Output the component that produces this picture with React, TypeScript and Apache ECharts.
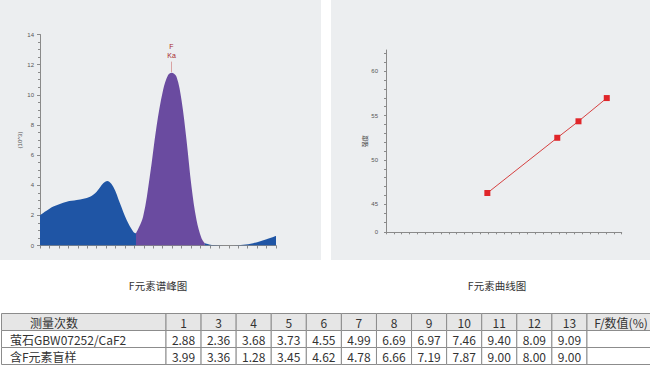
import React, { useEffect, useRef } from 'react';
import * as echarts from 'echarts';

// ---- Spectrum (F元素谱峰图) ----
const lowX = [0, 14.1, 28.3, 38.9, 53, 60, 67, 71.3, 77.6, 84.7, 91.8, 98.8, 101.7];
const lowY = [2.0, 2.58, 2.91, 3.02, 3.24, 3.57, 4.13, 4.28, 3.9, 2.8, 1.69, 0.92, 0.81];
const peakX = [101.7, 109.2, 116.3, 123.4, 130.4, 135.7, 139.3, 144.6, 149.9, 155.2, 160.5, 165.8, 171.1, 174.6];
const peakY = [0.81, 1.91, 4.57, 7.88, 10.32, 11.31, 11.47, 11.2, 9.65, 7.0, 3.9, 1.69, 0.48, 0.15];
const tailX = [174.6, 183.4, 204.6, 225.8, 240, 250];
const tailY = [0.15, 0.03, 0.0, 0.15, 0.41, 0.63];
const peakLabel = 'F\nKa';
const peakMarkX = 139.3;
const peakMarkFrom = 11.5;
const peakMarkTo = 12.2;

// ---- Calibration curve (F元素曲线图) ----
const curveX = [12.9, 21.8, 24.5, 28.1];
const curveY = [46.27, 52.5, 54.36, 56.98];
const curveTickValues = [41.84, 45, 50, 55, 60];
const curveTickLabels = ['0', '45', '50', '55', '60'];

// ---- Captions ----
const captionLeft = 'F元素谱峰图';
const captionRight = 'F元素曲线图';

// ---- Table ----
const tableHeader = ['测量次数', '1', '3', '4', '5', '6', '7', '8', '9', '10', '11', '12', '13', 'F/数值(%)'];
const rowNames = ['萤石GBW07252/CaF2', '含F元素盲样'];
const rowFluorite = [2.88, 2.36, 3.68, 3.73, 4.55, 4.99, 6.69, 6.97, 7.46, 9.40, 8.09, 9.09];
const rowBlind = [3.99, 3.36, 1.28, 3.45, 4.62, 4.78, 6.66, 7.19, 7.87, 9.00, 8.00, 9.00];

const zip = (xs: number[], ys: number[]) => xs.map((x, i) => [x, ys[i]]);

const AXIS_COLOR = '#8a8a8a';
const LABEL_COLOR = '#555';
const SANS = 'Liberation Sans, Arial, sans-serif';
const CJK = '"Noto Sans CJK SC", "Noto Sans", sans-serif';

function buildTable(): any[] {
  const els: any[] = [];
  const top = 313.5;
  const rowH = 17;
  const firstW = 164.5;
  const left = 1.5;
  const numW = 35.08;
  const colX: number[] = [left, left + firstW];
  for (let i = 1; i <= 12; i++) colX.push(left + firstW + numW * i);
  colX.push(655);
  const rows: string[][] = [
    tableHeader,
    [rowNames[0], ...rowFluorite.map((v) => v.toFixed(2)), ''],
    [rowNames[1], ...rowBlind.map((v) => v.toFixed(2)), ''],
  ];
  rows.forEach((row, r) => {
    const y = top + r * rowH;
    row.forEach((txt, c) => {
      const x0 = colX[c];
      const x1 = colX[c + 1];
      els.push({
        type: 'rect',
        shape: { x: x0, y, width: x1 - x0, height: rowH },
        style: { fill: r === 0 ? '#e6e6e6' : '#ffffff', stroke: '#8c8c8c', lineWidth: 1 },
        z: 1,
      });
      if (!txt) return;
      let tx = (x0 + x1) / 2;
      let align = 'center';
      if (c === 0) {
        if (r === 0) {
          tx = 54;
        } else {
          tx = 10;
          align = 'left';
        }
      }
      els.push({
        type: 'text',
        z: 2,
        style: {
          text: txt,
          x: tx,
          y: y + rowH / 2 + 0.5,
          fill: '#333',
          fontSize: 12,
          fontFamily: CJK,
          align,
          verticalAlign: 'middle',
          textAlign: align,
          textVerticalAlign: 'middle',
        },
      });
    });
  });
  return els;
}

export default function App() {
  const ref = useRef<HTMLDivElement>(null);
  useEffect(() => {
    if (!ref.current) return;
    const chart = echarts.init(ref.current, undefined, { renderer: 'svg' });
    const axisCommon = {
      axisLine: { show: true, onZero: false, lineStyle: { color: AXIS_COLOR, width: 1 } },
      axisTick: { show: true, inside: false, lineStyle: { color: AXIS_COLOR } },
      splitLine: { show: false },
    };
    chart.setOption({
      animation: false,
      backgroundColor: '#ffffff',
      graphic: [
        {
          type: 'rect',
          z: -100,
          shape: { x: 0, y: 0, width: 321, height: 260 },
          style: { fill: '#eceef0' },
        },
        {
          type: 'rect',
          z: -100,
          shape: { x: 331, y: 0, width: 319, height: 260 },
          style: { fill: '#eceef0' },
        },
        {
          type: 'text',
          style: {
            text: captionLeft, x: 158, y: 285, fill: '#333', fontSize: 10.5, fontFamily: CJK,
            align: 'center', verticalAlign: 'middle', textAlign: 'center', textVerticalAlign: 'middle',
          },
        },
        {
          type: 'text',
          style: {
            text: captionRight, x: 497, y: 285, fill: '#333', fontSize: 10.5, fontFamily: CJK,
            align: 'center', verticalAlign: 'middle', textAlign: 'center', textVerticalAlign: 'middle',
          },
        },
        ...buildTable(),
      ],
      grid: [
        { left: 40, top: 34.5, width: 236, height: 211 },
        { left: 386, top: 50, width: 235.7, height: 182.3 },
      ],
      xAxis: [
        {
          ...axisCommon,
          type: 'value',
          gridIndex: 0,
          min: 0,
          max: 250,
          interval: 10,
          axisTick: { ...axisCommon.axisTick, length: 3 },
          axisLabel: { show: false },
        },
        {
          ...axisCommon,
          type: 'value',
          gridIndex: 1,
          min: 0,
          max: 30,
          interval: 1,
          axisTick: { ...axisCommon.axisTick, length: 2 },
          axisLabel: { show: false },
        },
      ],
      yAxis: [
        {
          ...axisCommon,
          type: 'value',
          gridIndex: 0,
          min: 0,
          max: 14,
          interval: 2,
          axisTick: { ...axisCommon.axisTick, length: 3 },
          minorTick: { show: true, splitNumber: 4, length: 2, lineStyle: { color: AXIS_COLOR } },
          minorSplitLine: { show: false },
          axisLabel: { fontSize: 6, color: LABEL_COLOR, margin: 6, fontFamily: SANS },
          name: '(10^3)',
          nameLocation: 'middle',
          nameGap: 16,
          nameRotate: 90,
          nameTextStyle: { fontSize: 6, color: LABEL_COLOR, fontFamily: SANS },
        },
        {
          ...axisCommon,
          type: 'value',
          gridIndex: 1,
          min: curveTickValues[0],
          max: 62.4,
          axisTick: {
            ...axisCommon.axisTick,
            length: 2,
            customValues: [curveTickValues[0], 43, 44, 45, 46, 47, 48, 49, 50, 51, 52, 53, 54, 55, 56, 57, 58, 59, 60, 61, 62],
          },
          axisLabel: {
            fontSize: 6,
            color: LABEL_COLOR,
            margin: 8,
            fontFamily: SANS,
            customValues: curveTickValues,
            formatter: (v: number) => {
              const i = curveTickValues.findIndex((t) => Math.abs(t - v) < 0.01);
              return i >= 0 ? curveTickLabels[i] : '';
            },
          },
          name: '强度',
          nameLocation: 'middle',
          nameGap: 17,
          nameRotate: 90,
          nameTextStyle: { fontSize: 6, color: '#444', fontFamily: CJK },
        },
      ],
      series: [
        {
          type: 'line',
          xAxisIndex: 0,
          yAxisIndex: 0,
          data: zip(lowX, lowY),
          smooth: 0.35,
          symbol: 'none',
          lineStyle: { width: 0 },
          areaStyle: { color: '#1f55a5', opacity: 1 },
          z: 2,
        },
        {
          type: 'line',
          xAxisIndex: 0,
          yAxisIndex: 0,
          data: zip(peakX, peakY),
          smooth: 0.35,
          symbol: 'none',
          lineStyle: { width: 0 },
          areaStyle: { color: '#6a4ba0', opacity: 1 },
          z: 2,
          markLine: {
            silent: true,
            symbol: 'none',
            lineStyle: { color: '#d9a3a3', width: 1, type: 'solid' },
            label: {
              show: true,
              position: 'end',
              formatter: peakLabel,
              color: '#a8282b',
              fontSize: 7,
              lineHeight: 9,
              fontFamily: SANS,
              distance: 2,
            },
            data: [[{ coord: [peakMarkX, peakMarkFrom] }, { coord: [peakMarkX, peakMarkTo] }]],
          },
        },
        {
          type: 'line',
          xAxisIndex: 0,
          yAxisIndex: 0,
          data: zip(tailX, tailY),
          smooth: 0.35,
          symbol: 'none',
          lineStyle: { width: 0 },
          areaStyle: { color: '#1f55a5', opacity: 1 },
          z: 2,
        },
        {
          type: 'line',
          xAxisIndex: 1,
          yAxisIndex: 1,
          data: zip(curveX, curveY),
          symbol: 'rect',
          symbolSize: 6,
          itemStyle: { color: '#e0262a' },
          lineStyle: { color: '#d54040', width: 1 },
          z: 3,
        },
      ],
    });
    return () => chart.dispose();
  }, []);
  return (
    <div
      ref={ref}
      style={{ position: 'absolute', left: 0, top: 0, width: 650, height: 365, background: '#fff' }}
    />
  );
}
